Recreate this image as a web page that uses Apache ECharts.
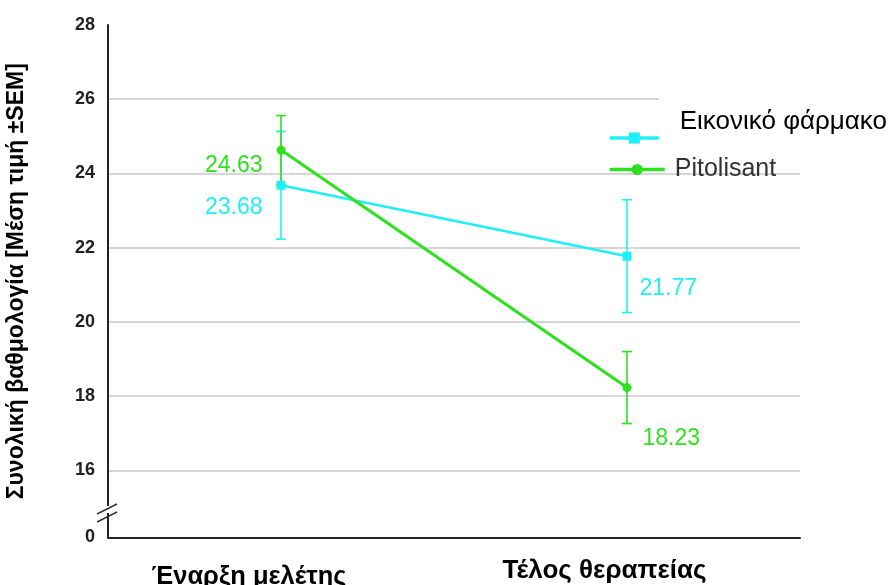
<!DOCTYPE html>
<html>
<head>
<meta charset="utf-8">
<script src="https://cdn.jsdelivr.net/npm/echarts@6/dist/echarts.min.js"></script>
<style>
  html, body { margin: 0; padding: 0; background: #ffffff; }
  #chart { width: 893px; height: 585px; }
</style>
</head>
<body>
<div id="chart"></div>
<script>
// Total score over time, mean ± SEM, placebo vs pitolisant
const timepoints = ['Έναρξη μελέτης', 'Τέλος θεραπείας'];
const seriesNames = ['Εικονικό φάρμακο', 'Pitolisant'];
const placeboMean = [23.68, 21.77];
const placeboSem = [1.45, 1.52];
const pitolisantMean = [24.63, 18.23];
const pitolisantSem = [0.93, 0.97];
const yTicks = [0, 16, 18, 20, 22, 24, 26, 28];
const yTitle = 'Συνολική βαθμολογία [Μέση τιμή ±SEM]';

// the axis is broken below 16: its origin (0) sits this far down the scale
const axisFloor = 14.19;

const CYAN = '#1ff0f8';
const GREEN = '#2fe01e';
const FONT = '"Liberation Sans", Arial, sans-serif';

// label placement for each point: [position, distance, dy]
const placeboLabelPlace = [['left', 14, 22], ['right', 8, 32]];
const pitolisantLabelPlace = [['left', 14, 16], ['right', 11, 51]];

function pointData(means, place, color) {
  return means.map((v, i) => ({
    value: v,
    label: {
      show: true,
      position: place[i][0],
      distance: place[i][1],
      offset: [0, place[i][2]],
      color: color,
      fontSize: 23,
      fontFamily: FONT,
      formatter: p => p.value.toFixed(2)
    }
  }));
}

function errData(means, sems) {
  return means.map((m, i) => [i, m - sems[i], m + sems[i]]);
}

function errRender(color) {
  return function (params, api) {
    const x = api.value(0);
    const lo = api.coord([x, api.value(1)]);
    const hi = api.coord([x, api.value(2)]);
    const w = 5;
    const style = { stroke: color, lineWidth: 1.6 };
    return {
      type: 'group',
      children: [
        { type: 'line', shape: { x1: hi[0], y1: hi[1], x2: lo[0], y2: lo[1] }, style: style },
        { type: 'line', shape: { x1: hi[0] - w, y1: hi[1], x2: hi[0] + w, y2: hi[1] }, style: style },
        { type: 'line', shape: { x1: lo[0] - w, y1: lo[1], x2: lo[0] + w, y2: lo[1] }, style: style }
      ]
    };
  };
}

function yLabel(v) {
  if (Math.abs(v - axisFloor) < 1e-6) return String(yTicks[0]);
  return yTicks.indexOf(v) >= 0 ? String(v) : '';
}

const chart = echarts.init(document.getElementById('chart'), null, { renderer: 'canvas' });

chart.setOption({
  animation: false,
  backgroundColor: '#ffffff',
  textStyle: { fontFamily: FONT },
  grid: { left: 108, right: 93, top: 25, bottom: 47.5, containLabel: false, outerBoundsMode: 'none' },
  legend: [
    {
      data: [seriesNames[0]],
      left: 608, top: 109, padding: 0,
      itemWidth: 49, itemHeight: 14,
      lineStyle: { width: 3.5 },
      formatter: name => '{n|' + name + '}\n{s| }',
      textStyle: {
        fontFamily: FONT,
        rich: {
          n: { fontSize: 26, color: '#000', fontFamily: FONT, padding: [0, 0, 0, 16] },
          s: { height: 32, fontSize: 10 }
        }
      }
    },
    {
      data: [seriesNames[1]],
      left: 608, top: 157, padding: 0,
      itemWidth: 55, itemHeight: 14,
      lineStyle: { width: 3.5 },
      textStyle: { fontSize: 25, color: '#333', fontFamily: FONT, padding: [0, 0, 0, 5] }
    }
  ],
  xAxis: {
    type: 'category',
    data: timepoints,
    boundaryGap: true,
    axisLine: { lineStyle: { color: '#222', width: 2 } },
    axisTick: { alignWithLabel: true, length: 9, lineStyle: { color: '#222', width: 1.5 } },
    axisLabel: {
      margin: 20,
      formatter: (v, i) => '{t' + i + '|' + v + '}',
      rich: {
        t0: { fontSize: 25.5, fontWeight: 'bold', color: '#000', fontFamily: FONT, padding: [6, 64, 0, 0] },
        t1: { fontSize: 26, fontWeight: 'bold', color: '#000', fontFamily: FONT, padding: [0, 45, 0, 0] }
      }
    }
  },
  yAxis: {
    type: 'value',
    min: axisFloor, max: 28,
    minInterval: 2, maxInterval: 2,
    name: yTitle,
    nameLocation: 'middle',
    nameRotate: 90,
    nameGap: 80,
    nameTextStyle: { fontSize: 23, fontWeight: 'bold', color: '#000', fontFamily: FONT },
    axisLine: { show: true, lineStyle: { color: '#222', width: 2 } },
    axisTick: { show: false },
    axisLabel: {
      margin: 13,
      fontSize: 18, fontWeight: 'bold', color: '#222', fontFamily: FONT,
      formatter: yLabel
    },
    splitLine: { show: true, showMinLine: false, showMaxLine: false, lineStyle: { color: '#c8c8c8', width: 1.6 } }
  },
  graphic: [
    // the top gridline stops short of the legend
    { type: 'rect', left: 659, top: 95, shape: { width: 142, height: 7 }, style: { fill: '#ffffff' }, z: 10 },
    // axis break: gap in the axis line and the two slashes
    { type: 'rect', left: 104, top: 506, shape: { width: 8, height: 7 }, style: { fill: '#ffffff' }, z: 10 },
    { type: 'line', shape: { x1: 97, y1: 514, x2: 117, y2: 504 }, style: { stroke: '#333', lineWidth: 1.4 }, z: 11 },
    { type: 'line', shape: { x1: 97, y1: 522, x2: 117, y2: 512 }, style: { stroke: '#333', lineWidth: 1.4 }, z: 11 }
  ],
  series: [
    {
      type: 'custom', name: 'placebo-sem',
      renderItem: errRender(CYAN),
      data: errData(placeboMean, placeboSem),
      encode: { x: 0, y: [1, 2] },
      z: 2, silent: true
    },
    {
      type: 'custom', name: 'pitolisant-sem',
      renderItem: errRender(GREEN),
      data: errData(pitolisantMean, pitolisantSem),
      encode: { x: 0, y: [1, 2] },
      z: 3, silent: true
    },
    {
      type: 'line', name: seriesNames[0],
      data: pointData(placeboMean, placeboLabelPlace, CYAN),
      symbol: 'rect', symbolSize: 9,
      itemStyle: { color: CYAN },
      lineStyle: { color: CYAN, width: 2.5 },
      z: 4
    },
    {
      type: 'line', name: seriesNames[1],
      data: pointData(pitolisantMean, pitolisantLabelPlace, GREEN),
      symbol: 'circle', symbolSize: 9,
      itemStyle: { color: GREEN },
      lineStyle: { color: GREEN, width: 3 },
      z: 5
    }
  ]
});
</script>
</body>
</html>
